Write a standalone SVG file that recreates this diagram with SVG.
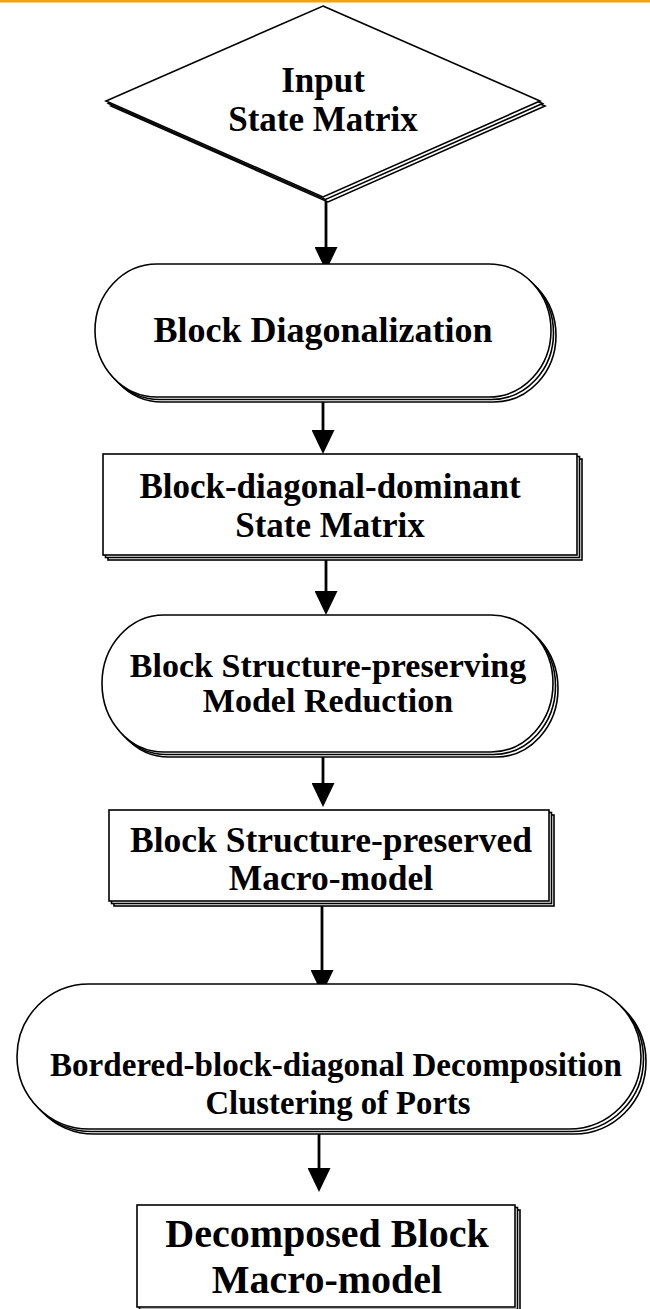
<svg xmlns="http://www.w3.org/2000/svg" width="650" height="1309" viewBox="0 0 650 1309">
  <style>
    .shape { fill: #ffffff; stroke: #000000; stroke-width: 1.6; }
    .label { font-family: "Liberation Serif", "Times New Roman", serif; font-weight: bold; fill: #000000; text-anchor: middle; }
    .wire { stroke: #000000; stroke-width: 2.8; fill: none; marker-end: url(#arrow); }
  </style>
  <defs>
    <marker id="arrow" markerUnits="userSpaceOnUse" viewBox="0 0 24 23" markerWidth="24" markerHeight="23" refX="12" refY="11.5" orient="auto">
      <path d="M0,0 L24,11.5 L0,23 Z" fill="#000000"/>
    </marker>
    <!-- node outlines, each drawn three times for a stacked look -->
    <polygon id="diamond" points="323,6 540,101 323,197 106,101"/>
    <rect id="stadium1" x="95" y="264" width="456" height="133" rx="62" ry="66.5"/>
    <rect id="box1" x="103" y="454" width="474" height="101"/>
    <rect id="stadium2" x="102" y="615" width="451" height="137" rx="62" ry="68.5"/>
    <rect id="box2" x="109" y="810" width="440" height="91"/>
    <rect id="stadium3" x="17" y="984" width="624" height="145" rx="72" ry="72.5"/>
    <rect id="box3" x="137" y="1205" width="378" height="102"/>
  </defs>

  <rect x="0" y="0" width="650" height="2.5" fill="#F5A012"/>

  <g id="connectors">
    <line class="wire" x1="326" y1="199" x2="326" y2="259"/>
    <line class="wire" x1="323" y1="402" x2="323" y2="442"/>
    <line class="wire" x1="326" y1="560" x2="326" y2="603"/>
    <line class="wire" x1="323" y1="757" x2="323" y2="795"/>
    <line class="wire" x1="322" y1="906" x2="322" y2="982"/>
    <line class="wire" x1="319" y1="1134" x2="319" y2="1180"/>
  </g>

  <g id="input-state-matrix">
    <use href="#diamond" class="shape" transform="translate(5,5)"/>
    <use href="#diamond" class="shape" transform="translate(2.5,2.5)"/>
    <use href="#diamond" class="shape"/>
    <text class="label" x="323" y="92" font-size="35">Input</text>
    <text class="label" x="323" y="131" font-size="35">State Matrix</text>
  </g>

  <g id="block-diagonalization">
    <use href="#stadium1" class="shape" transform="translate(5,5)"/>
    <use href="#stadium1" class="shape" transform="translate(2.5,2.5)"/>
    <use href="#stadium1" class="shape"/>
    <text class="label" x="323" y="342" font-size="36">Block Diagonalization</text>
  </g>

  <g id="block-diagonal-dominant">
    <use href="#box1" class="shape" transform="translate(5,5)"/>
    <use href="#box1" class="shape" transform="translate(2.5,2.5)"/>
    <use href="#box1" class="shape"/>
    <text class="label" x="330" y="498" font-size="35">Block-diagonal-dominant</text>
    <text class="label" x="330" y="537" font-size="35">State Matrix</text>
  </g>

  <g id="model-reduction">
    <use href="#stadium2" class="shape" transform="translate(5,5)"/>
    <use href="#stadium2" class="shape" transform="translate(2.5,2.5)"/>
    <use href="#stadium2" class="shape"/>
    <text class="label" x="328" y="677" font-size="34">Block Structure-preserving</text>
    <text class="label" x="328" y="712" font-size="34">Model Reduction</text>
  </g>

  <g id="preserved-macro-model">
    <use href="#box2" class="shape" transform="translate(5,5)"/>
    <use href="#box2" class="shape" transform="translate(2.5,2.5)"/>
    <use href="#box2" class="shape"/>
    <text class="label" x="331" y="852" font-size="35.5">Block Structure-preserved</text>
    <text class="label" x="331" y="890" font-size="35.5">Macro-model</text>
  </g>

  <g id="bbd-decomposition">
    <use href="#stadium3" class="shape" transform="translate(5,5)"/>
    <use href="#stadium3" class="shape" transform="translate(2.5,2.5)"/>
    <use href="#stadium3" class="shape"/>
    <text class="label" x="336" y="1076" font-size="34" textLength="572" lengthAdjust="spacingAndGlyphs">Bordered-block-diagonal Decomposition</text>
    <text class="label" x="338" y="1114" font-size="34" textLength="265" lengthAdjust="spacingAndGlyphs">Clustering of Ports</text>
  </g>

  <g id="decomposed-macro-model">
    <use href="#box3" class="shape" transform="translate(5,5)"/>
    <use href="#box3" class="shape" transform="translate(2.5,2.5)"/>
    <use href="#box3" class="shape"/>
    <text class="label" x="327" y="1247" font-size="40">Decomposed Block</text>
    <text class="label" x="327" y="1293" font-size="40">Macro-model</text>
  </g>
</svg>
